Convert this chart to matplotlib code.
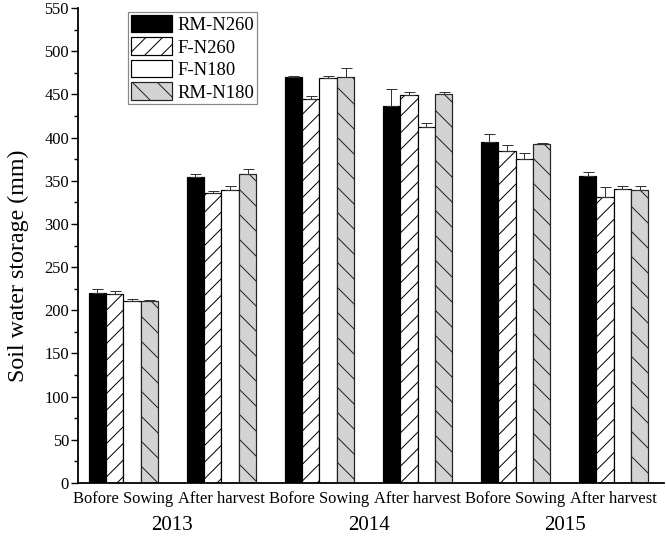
import numpy as np
import matplotlib
matplotlib.use("Agg")
import matplotlib.pyplot as plt
from matplotlib.ticker import MultipleLocator

# datos
categorias = ["Bofore Sowing", "After harvest"] * 3
anios = ["2013", "2014", "2015"]
tratamientos = ["RM-N260", "F-N260", "F-N180", "RM-N180"]

rm_n260 = [219.5, 354.7, 470.5, 437.0, 395.2, 355.5]
f_n260 = [218.5, 335.4, 444.7, 449.6, 384.4, 330.8]
f_n180 = [211.1, 339.3, 469.5, 412.0, 375.2, 340.4]
rm_n180 = [210.4, 357.4, 470.5, 450.8, 392.5, 339.3]

err_rm_n260 = [5, 2.7, 0.5, 19, 9, 5]
err_f_n260 = [4, 3, 3.5, 3, 6.6, 12]
err_f_n180 = [1.5, 5, 2, 5, 6.6, 4]
err_rm_n180 = [1, 6, 10, 2, 1.5, 5]

valores = [rm_n260, f_n260, f_n180, rm_n180]
errores = [err_rm_n260, err_f_n260, err_f_n180, err_rm_n180]

DPI = 150
def pt(px):
    # pixeles -> puntos
    return px * 72 / DPI

plt.rcParams["font.family"] = ["Liberation Serif", "DejaVu Serif"]
plt.rcParams["hatch.linewidth"] = pt(1.0)

fig = plt.figure(figsize=(666 / DPI, 540 / DPI), dpi=DPI)
ax = fig.add_axes([78 / 666, 1 - 483 / 540, 586 / 666, 475 / 540])

estilos = [
    dict(color="black", edgecolor="black", hatch=None),
    dict(color="white", edgecolor="black", hatch="///"),
    dict(color="white", edgecolor="black", hatch=None),
    dict(color="#d3d3d3", edgecolor="#222222", hatch="\\\\"),
]

ancho = 0.177
x = np.arange(len(categorias))
for i, (vals, errs, est) in enumerate(zip(valores, errores, estilos)):
    pos = x + (i - 1.5) * ancho
    ax.bar(pos, vals, ancho, yerr=[np.zeros(len(errs)), errs],
           color=est["color"], edgecolor=est["edgecolor"], hatch=est["hatch"],
           linewidth=pt(1.2), label=tratamientos[i],
           error_kw=dict(ecolor="#333333", elinewidth=pt(1.0),
                         capsize=pt(5.5), capthick=pt(1.0)))

ax.set_xlim(-0.464, 5.515)
ax.set_ylim(0, 550)
ax.yaxis.set_major_locator(MultipleLocator(50))
ax.yaxis.set_minor_locator(MultipleLocator(25))

ax.spines["top"].set_visible(False)
ax.spines["right"].set_visible(False)
ax.spines["left"].set_linewidth(pt(1.8))
ax.spines["bottom"].set_linewidth(pt(1.8))

ax.set_xticks(x)
ax.set_xticklabels(categorias, fontsize=pt(16.5))
ax.tick_params(axis="x", length=0, pad=pt(8))
ax.tick_params(axis="y", which="major", length=pt(7), width=pt(1.4),
               labelsize=pt(16.5), pad=pt(2))
ax.tick_params(axis="y", which="minor", length=pt(4), width=pt(1.4))

for j, anio in enumerate(anios):
    ax.text(2 * j + 0.5, -0.0905, anio, transform=ax.get_xaxis_transform(),
            ha="center", va="center", fontsize=pt(21))

ax.set_ylabel("Soil water storage (mm)", fontsize=pt(24))
ax.yaxis.set_label_coords(-0.083, 0.457)

leg = ax.legend(loc="upper left", bbox_to_anchor=(128 / 666, 1 - 12 / 540),
                bbox_transform=fig.transFigure, borderaxespad=0,
                fontsize=pt(18.7), handlelength=2.2, handleheight=1.07,
                labelspacing=0.18, handletextpad=0.3, borderpad=0.15,
                fancybox=False, framealpha=1)
leg.get_frame().set_edgecolor("#888888")
leg.get_frame().set_linewidth(pt(1.2))

fig.savefig("out.png", dpi=DPI)
